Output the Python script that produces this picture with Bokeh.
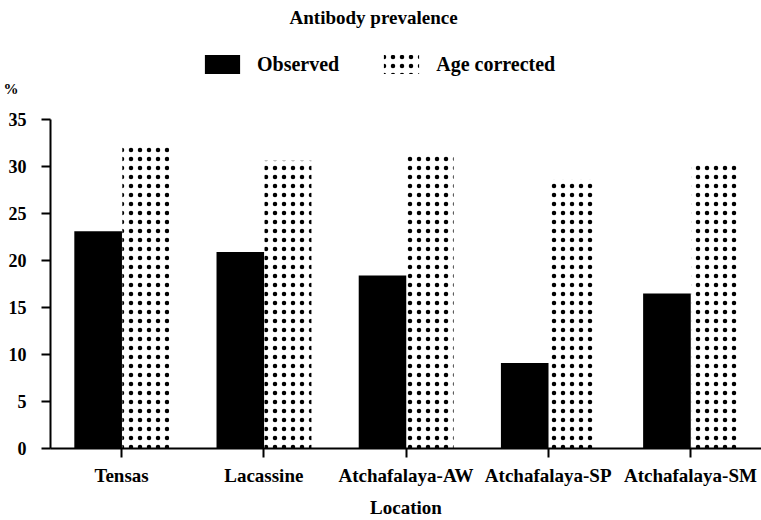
from bokeh.plotting import figure
from bokeh.layouts import column
from bokeh.models import ColumnDataSource, FactorRange, Range1d, Legend, LegendItem, Label
from bokeh.transform import dodge
from bokeh.embed import file_html
from bokeh.resources import INLINE

locations = ["Tensas", "Lacassine", "Atchafalaya-AW", "Atchafalaya-SP", "Atchafalaya-SM"]
observed = [23.1, 20.9, 18.4, 9.1, 16.5]
age_corrected = [32.2, 30.6, 31.3, 28.6, 30.2]
y_ticks = [0, 5, 10, 15, 20, 25, 30, 35]
series_names = ["Observed", "Age corrected"]

FONT = "Liberation Serif"
HATCH = dict(hatch_pattern="dot", hatch_color="black", hatch_scale=9, hatch_weight=4)

# ---- header (title, legend, unit) ----
top = figure(width=761, height=109, x_range=Range1d(48, 761), y_range=Range1d(109, 0),
             output_backend="svg", toolbar_location=None, title=None,
             min_border=0, min_border_left=48, outline_line_color=None)
top.xaxis.visible = False
top.grid.visible = False
ya = top.yaxis[0]
ya.ticker = [88]
ya.major_label_overrides = {88: "%"}
ya.axis_line_color = None
ya.major_tick_line_color = None
ya.minor_tick_line_color = None
ya.major_tick_out = 0
ya.major_tick_in = 0
ya.major_label_standoff = 32
ya.major_label_text_font = FONT
ya.major_label_text_font_style = "bold"
ya.major_label_text_font_size = "15px"
ya.major_label_text_color = "black"

legend_src = ColumnDataSource(dict(x=[-1000], top=[0]))
r_obs_leg = top.vbar(x="x", top="top", width=1, source=legend_src, fill_color="black",
                     line_color=None)
r_age_leg = top.vbar(x="x", top="top", width=1, source=legend_src, fill_color="white",
                     line_color=None, **HATCH)
top.add_layout(Label(x=372, y=17, text="Antibody prevalence", text_align="center",
                     text_baseline="middle", text_font=FONT, text_font_style="bold",
                     text_font_size="19px", text_color="black"))
legend = Legend(items=[LegendItem(label=series_names[0], renderers=[r_obs_leg]),
                       LegendItem(label=series_names[1], renderers=[r_age_leg])],
                orientation="horizontal", location=(150, 33),
                glyph_width=44, glyph_height=24, label_standoff=13, spacing=40,
                padding=4, margin=0, border_line_color=None, background_fill_alpha=0,
                label_text_font=FONT, label_text_font_style="bold", label_text_color="black",
                label_text_font_size="20px", label_text_baseline="middle")
top.add_layout(legend, "center")

# ---- main chart ----
src = ColumnDataSource(dict(loc=locations, obs=observed, age=age_corrected))
p = figure(x_range=FactorRange(*locations, range_padding=0), y_range=Range1d(0, 35),
           width=761, height=411, output_backend="svg", toolbar_location=None, title=None,
           min_border_left=48, min_border_right=0, min_border_top=10, min_border_bottom=72)
p.outline_line_color = None
p.xgrid.grid_line_color = None
p.ygrid.grid_line_color = None

p.vbar(x=dodge("loc", -0.165, range=p.x_range), top="obs", width=0.335, source=src,
       fill_color="black", line_color=None)
p.vbar(x=dodge("loc", 0.17, range=p.x_range), top="age", width=0.33, source=src,
       fill_color="white", line_color=None, **HATCH)

for ax in (p.xaxis[0], p.yaxis[0]):
    ax.axis_line_width = 2
    ax.major_tick_line_width = 2
    ax.major_tick_in = 0
    ax.major_tick_out = 9
    ax.minor_tick_line_color = None
    ax.major_label_text_font = FONT
    ax.major_label_text_font_style = "bold"
    ax.major_label_text_color = "black"

p.xaxis.major_label_text_font_size = "19px"
p.yaxis.major_label_text_font_size = "18px"
p.yaxis.ticker = y_ticks
p.yaxis.major_label_standoff = 15
p.xaxis.major_label_standoff = 7
p.xaxis.axis_label = "Location"
p.xaxis.axis_label_text_font = FONT
p.xaxis.axis_label_text_font_style = "bold"
p.xaxis.axis_label_text_font_size = "19px"
p.xaxis.axis_label_text_color = "black"
p.xaxis.axis_label_standoff = 8

layout = column(top, p, spacing=0)
open("out.html", "w").write(file_html(layout, INLINE))
